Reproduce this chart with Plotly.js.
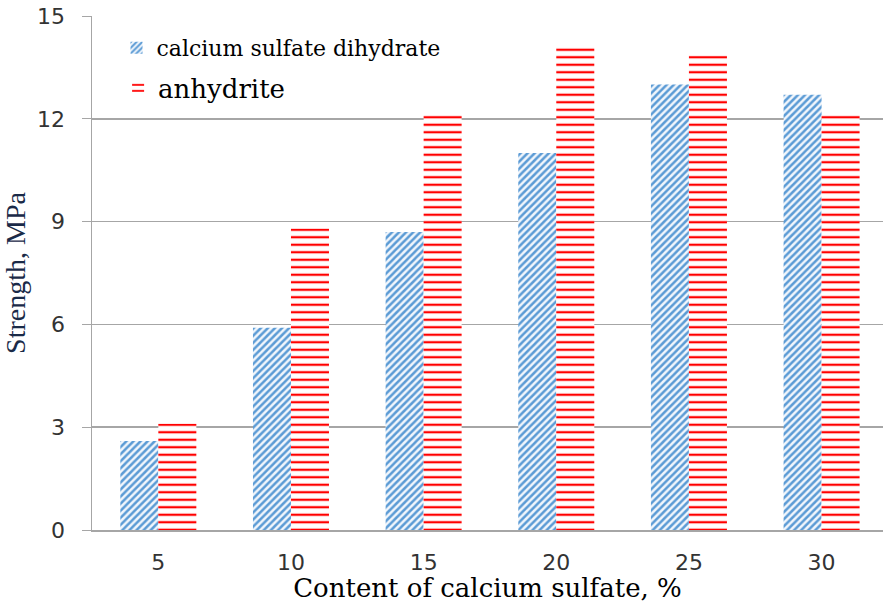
<!DOCTYPE html>
<html><head><meta charset="utf-8">
<script src="https://cdn.plot.ly/plotly-3.0.1.min.js"></script>
<style>html,body{margin:0;padding:0;background:#fff}#chart{width:883px;height:603px}</style>
</head><body><div id="chart"></div>
<script>
const categories = ['5', '10', '15', '20', '25', '30'];
const dihydrate = [2.6, 5.9, 8.7, 11.0, 13.0, 12.7];
const anhydrite = [3.1, 8.8, 12.1, 14.1, 13.85, 12.1];
const seriesNames = ['calcium sulfate dihydrate', 'anhydrite'];
const yTicks = [0, 3, 6, 9, 12, 15];

const traces = [
  {type:'bar', x:categories, y:dihydrate, name:seriesNames[0], legend:'legend',
   marker:{color:'#5b9bd5', line:{width:0}, pattern:{shape:'/', bgcolor:'#f1f6fc', fgcolor:'#5b9bd5', size:5, solidity:0.5}}},
  {type:'bar', x:categories, y:anhydrite, name:seriesNames[1], legend:'legend2',
   marker:{color:'#ff0000', line:{width:0}, pattern:{shape:'-', bgcolor:'#ffffff', fgcolor:'#ff0000', size:7.5, solidity:0.3}}}
];
const layout = {
  width:883, height:603,
  margin:{l:92, r:0, t:16, b:73},
  paper_bgcolor:'#fff', plot_bgcolor:'#fff',
  barmode:'group', bargap:0.427, bargroupgap:0,
  showlegend:true,
  legend:{x:0.031, y:0.938, yanchor:'middle', bgcolor:'rgba(0,0,0,0)', font:{family:'DejaVu Serif', size:22, color:'#000'}},
  legend2:{x:0.033, y:0.860, yanchor:'middle', bgcolor:'rgba(0,0,0,0)', font:{family:'DejaVu Serif', size:26, color:'#000'}},
  xaxis:{type:'category', range:[-0.5, 5.463], showgrid:false, showline:true, linecolor:'#a6a6a6', linewidth:1.5,
         ticks:'', tickfont:{family:'DejaVu Sans', size:22, color:'#333'}, ticklabelstandoff:12,
         title:{text:'Content of calcium sulfate, %', font:{family:'DejaVu Serif', size:26, color:'#000'}, standoff:4}},
  yaxis:{range:[0,15], tickvals:yTicks, showgrid:true, gridcolor:'#a6a6a6', gridwidth:1.5, zeroline:false,
         showline:true, linecolor:'#a6a6a6', linewidth:1.5, ticks:'outside', ticklen:9, tickcolor:'#a6a6a6',
         tickfont:{family:'DejaVu Sans', size:22, color:'#333'}, ticklabelstandoff:12,
         title:{text:'Strength, MPa', font:{family:'Liberation Serif', size:28, color:'#1a2a48'}, standoff:10}}
};
Plotly.newPlot('chart', traces, layout, {displayModeBar:false, staticPlot:true}).then(gd => {
  gd.querySelectorAll('.legendtext').forEach(el => {
    el.style.fontFamily = "'DejaVu Serif', serif";
  });
});
</script></body></html>
